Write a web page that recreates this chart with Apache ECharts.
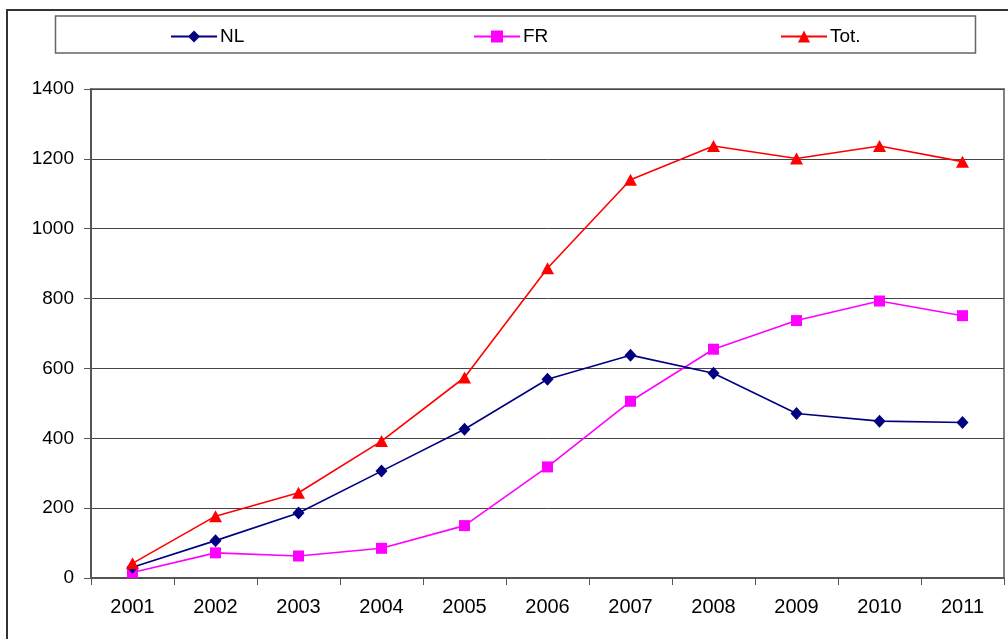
<!DOCTYPE html>
<html>
<head>
<meta charset="utf-8">
<script src="https://cdn.jsdelivr.net/npm/echarts@6/dist/echarts.min.js"></script>
<style>html,body{margin:0;padding:0;background:#fff;}#c{width:1008px;height:639px;}</style>
</head>
<body>
<div id="c"></div>
<script>
var years = ['2001','2002','2003','2004','2005','2006','2007','2008','2009','2010','2011'];
var nl  = [31, 107, 186, 306, 426, 569, 638, 586, 471, 449, 445];
var fr  = [16, 72, 63, 85, 150, 318, 506, 655, 737, 793, 751];
var tot = [42, 177, 244, 392, 574, 887, 1140, 1237, 1201, 1237, 1192];
var seriesNames = ['NL', 'FR', 'Tot.'];

var chart = echarts.init(document.getElementById('c'), null, {renderer: 'canvas'});
var font = 'Liberation Sans, Arial, sans-serif';
function legendAt(name, left) {
  return {
    data: [name], left: left, top: 27, itemWidth: 46, itemHeight: 15, itemGap: 4,
    textStyle: {fontFamily: font, fontSize: 19, color: '#000', padding: [0,0,0,-2]},
    padding: 0
  };
}
chart.setOption({
  backgroundColor: '#fff',
  animation: false,
  graphic: [
    {type: 'rect', shape: {x: 7, y: 10, width: 1010, height: 640}, style: {fill: 'none', stroke: '#333', lineWidth: 2}, z: -1},
    {type: 'rect', shape: {x: 55.5, y: 16, width: 920, height: 37}, style: {fill: '#fff', stroke: '#666', lineWidth: 1.5}, z: -1}
  ],
  legend: [legendAt(seriesNames[0], 170), legendAt(seriesNames[1], 473), legendAt(seriesNames[2], 780)],
  grid: {left: 91, right: 4, top: 89, bottom: 61, show: true, borderColor: '#808080', borderWidth: 2, backgroundColor: 'transparent'},
  xAxis: {
    type: 'category', data: years, boundaryGap: true,
    axisLine: {lineStyle: {color: '#555', width: 2}},
    axisTick: {show: true, length: 7, lineStyle: {color: '#555'}},
    axisLabel: {fontFamily: font, fontSize: 20, color: '#000', margin: 19},
    splitLine: {show: false}
  },
  yAxis: {
    type: 'value', min: 0, max: 1400, interval: 200,
    axisLine: {show: true, lineStyle: {color: '#555', width: 2}},
    axisTick: {show: true, length: 7, lineStyle: {color: '#555'}},
    axisLabel: {fontFamily: font, fontSize: 19, color: '#000', margin: 17, formatter: function (v) { return String(v); }},
    splitLine: {show: true, lineStyle: {color: '#444', width: 1}}
  },
  series: [
    {name: seriesNames[0], type: 'line', data: nl, symbol: 'diamond', symbolSize: [12, 13],
     itemStyle: {color: '#000080'}, lineStyle: {color: '#000080', width: 1.6}, z: 3},
    {name: seriesNames[1], type: 'line', data: fr, symbol: 'rect', symbolSize: 11,
     itemStyle: {color: '#FF00FF'}, lineStyle: {color: '#FF00FF', width: 1.6}, z: 2},
    {name: seriesNames[2], type: 'line', data: tot, symbol: 'triangle', symbolSize: [13, 12],
     itemStyle: {color: '#FF0000'}, lineStyle: {color: '#FF0000', width: 1.6}, z: 4}
  ]
});
</script>
</body>
</html>
